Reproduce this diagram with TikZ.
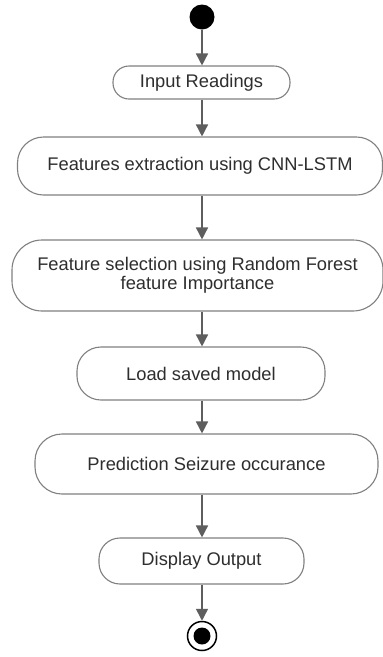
\documentclass[tikz,border=0pt]{standalone}
\usepackage{fontspec}
\setmainfont{Liberation Sans}
\usetikzlibrary{arrows.meta}
\definecolor{boxline}{HTML}{808080}
\definecolor{flowline}{HTML}{5E5E5E}
\definecolor{labeltext}{HTML}{2E2E2E}
\tikzset{
  action/.style={draw=boxline, line width=1.1pt, rounded corners=22pt,
    text=labeltext, align=center, inner sep=0pt,
    font=\fontsize{18.3}{19.5}\selectfont},
  flow/.style={draw=flowline, line width=1.5pt,
    -{Triangle[length=12pt,width=12pt]}},
}
\begin{document}
\begin{tikzpicture}[x=1pt,y=-1pt]
\useasboundingbox[fill=white] (0,0) rectangle (383,657);

% initial node
\node (start) [circle, fill=black, minimum size=25pt, inner sep=0pt] at (202,17) {};

% actions
\node (n1) [action, rounded corners=16pt, minimum width=177pt, minimum height=33pt] at (201.5,82.5) {Input Readings};
\node (n2) [action, rounded corners=26pt, minimum width=365pt, minimum height=58pt] at (200,166) {Features extraction using CNN-LSTM};
\node (n3) [action, rounded corners=30pt, minimum width=371pt, minimum height=71pt] at (197.5,275.5) {Feature selection using Random Forest\\feature Importance};
\node (n4) [action, rounded corners=24pt, minimum width=248pt, minimum height=53pt] at (201,373.5) {Load saved model};
\node (n5) [action, rounded corners=27pt, minimum width=343pt, minimum height=60pt] at (206.5,464) {Prediction Seizure occurance};
\node (n6) [action, rounded corners=21pt, minimum width=205pt, minimum height=46pt] at (201.5,561) {Display Output};

% final node
\node (stop) [circle, draw=black, line width=1.5pt, minimum size=29pt, inner sep=0pt] at (202,636) {};
\node (stopdot) [circle, fill=black, minimum size=17pt, inner sep=0pt] at (stop) {};

% control flow
\draw[flow] (start.south) -- (n1.north -| start);
\draw[flow] (n1.south -| start) -- (n2.north -| start);
\draw[flow] (n2.south -| start) -- (n3.north -| start);
\draw[flow] (n3.south -| start) -- (n4.north -| start);
\draw[flow] (n4.south -| start) -- (n5.north -| start);
\draw[flow] (n5.south -| start) -- (n6.north -| start);
\draw[flow] (n6.south -| start) -- (stop.north);
\end{tikzpicture}
\end{document}
